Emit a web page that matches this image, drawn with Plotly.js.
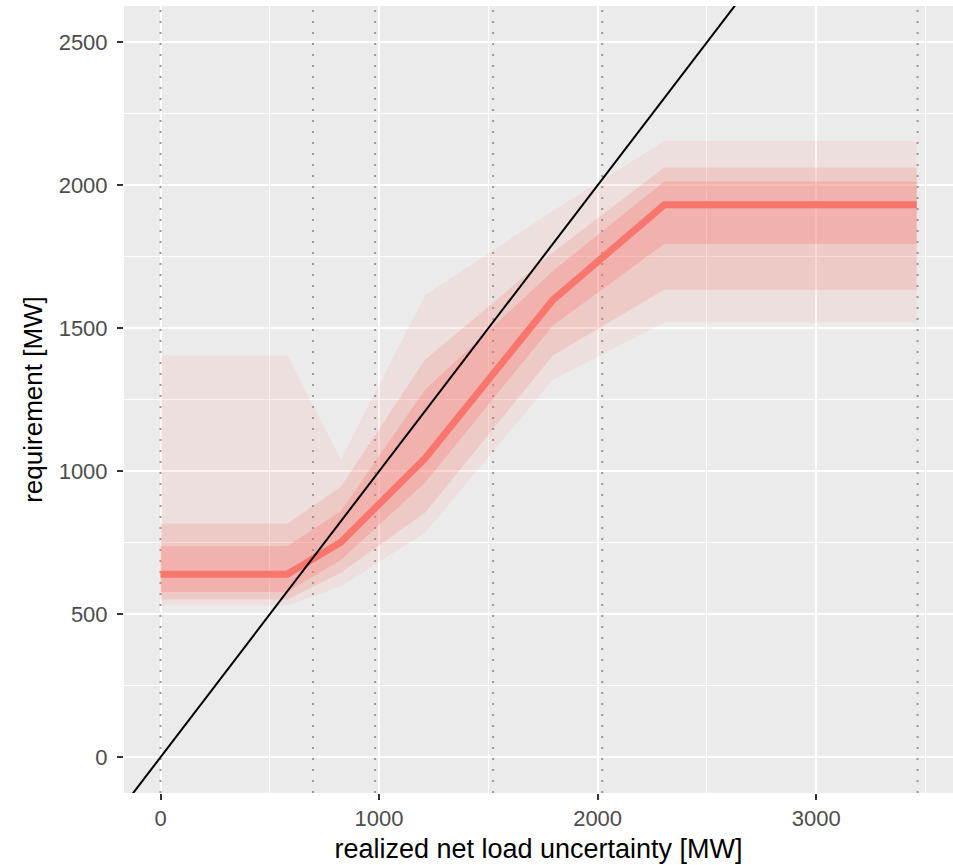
<!DOCTYPE html>
<html>
<head>
<meta charset="utf-8">
<script src="https://cdn.plot.ly/plotly-3.0.1.min.js"></script>
<style>
  html, body { margin: 0; padding: 0; background: #ffffff; }
  #chart { width: 953px; height: 865px; }
</style>
</head>
<body>
<div id="chart"></div>
<script>
// ---- data ----
const xPts   = [0,    580,  825,  1210, 1795, 2305, 3460];
const outerHi = [1405, 1405, 1040, 1615, 1910, 2155, 2155];
const midHi   = [817,  817,  945,  1390, 1765, 2062, 2062];
const innerHi = [738,  738,  860,  1285, 1700, 2013, 2013];
const median  = [640,  640,  752,  1045, 1599, 1932, 1932];
const innerLo = [578,  578,  690,  960,  1510, 1795, 1795];
const midLo   = [552,  552,  645,  855,  1405, 1635, 1635];
const outerLo = [531,  531,  598,  785,  1320, 1520, 1520];

// dotted reference lines (x positions)
const dottedX = [0, 698, 982, 1522, 2021, 3464];

// identity line y = x
const diagSlope = 1;
const diagIntercept = 0;

const xRange = [-167, 3626];
const yRange = [-125, 2627];
const xTicks = [0, 1000, 2000, 3000];
const yTicks = [0, 500, 1000, 1500, 2000, 2500];

// ---- traces ----
const traces = [];
const red = '248,118,109';

dottedX.forEach(v => {
  traces.push({
    x: [v, v], y: yRange, mode: 'lines', hoverinfo: 'skip',
    line: { color: '#999999', width: 2, dash: '2px,9px' }
  });
});

function band(lo, hi, alpha) {
  traces.push({ x: xPts, y: lo, mode: 'lines', line: { width: 0, color: 'rgba(0,0,0,0)' }, hoverinfo: 'skip' });
  traces.push({ x: xPts, y: hi, mode: 'lines', line: { width: 0, color: 'rgba(0,0,0,0)' },
                fill: 'tonexty', fillcolor: 'rgba(' + red + ',' + alpha + ')', hoverinfo: 'skip' });
}
band(outerLo, outerHi, 0.1);
band(midLo, midHi, 0.2);
band(innerLo, innerHi, 0.3);

traces.push({ x: xPts, y: median, mode: 'lines', line: { color: 'rgb(' + red + ')', width: 7 } });

const diagX = [xRange[0] - 100, xRange[1] + 100];
traces.push({ x: diagX, y: diagX.map(v => diagIntercept + diagSlope * v), mode: 'lines',
              line: { color: '#000000', width: 2 } });

const font = 'Liberation Sans, Arial, Helvetica, sans-serif';

const layout = {
  width: 953, height: 865,
  margin: { l: 124, r: 0, t: 6, b: 72 },
  paper_bgcolor: '#ffffff',
  plot_bgcolor: '#EBEBEB',
  showlegend: false,
  font: { family: font },
  xaxis: {
    range: xRange, tickvals: xTicks, ticktext: xTicks.map(String),
    showgrid: true, gridcolor: '#ffffff', gridwidth: 2,
    minor: { dtick: 500, tick0: 0, showgrid: true, gridcolor: '#ffffff', gridwidth: 1 },
    zeroline: false, showline: false,
    ticks: 'outside', ticklen: 6, tickwidth: 2, tickcolor: '#333333',
    tickfont: { family: font, size: 22, color: '#4D4D4D' },
    title: { text: 'realized net load uncertainty [MW]', font: { family: font, size: 27, color: '#000000' }, standoff: 8 },
    automargin: false
  },
  yaxis: {
    range: yRange, tickvals: yTicks, ticktext: yTicks.map(String),
    showgrid: true, gridcolor: '#ffffff', gridwidth: 2,
    minor: { dtick: 250, tick0: 0, showgrid: true, gridcolor: '#ffffff', gridwidth: 1 },
    zeroline: false, showline: false,
    ticks: 'outside', ticklen: 6, tickwidth: 2, tickcolor: '#333333',
    ticklabelstandoff: 5,
    tickfont: { family: font, size: 22, color: '#4D4D4D' },
    title: { text: 'requirement [MW]', font: { family: font, size: 26, color: '#000000' }, standoff: 8 },
    automargin: false
  }
};

Plotly.newPlot('chart', traces, layout, { displayModeBar: false, staticPlot: true });
</script>
</body>
</html>
